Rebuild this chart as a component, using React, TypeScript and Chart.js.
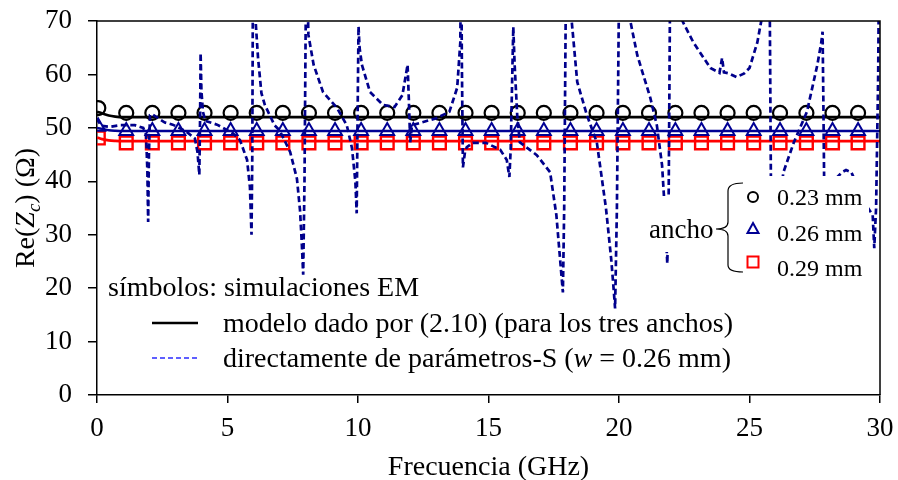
import { useEffect, useRef } from "react";
import { Chart, registerables } from "chart.js";

Chart.register(...registerables);

// Frequencies (GHz) of the EM simulation samples
const markerFreq = [
  0.05, 1.12, 2.12, 3.12, 4.12, 5.12, 6.12, 7.12, 8.12, 9.12, 10.12, 11.12, 12.12, 13.12, 14.12,
  15.12, 16.12, 17.12, 18.14, 19.14, 20.15, 21.15, 22.16, 23.16, 24.16, 25.16, 26.17, 27.18, 28.18, 29.16,
];
// Re(Zc) from EM simulations, widths 0.23 / 0.26 / 0.29 mm
const emRe023 = [
  53.7, 52.8, 52.8, 52.8, 52.8, 52.8, 52.8, 52.8, 52.8, 52.8, 52.8, 52.8, 52.8, 52.8, 52.8,
  52.8, 52.8, 52.8, 52.8, 52.8, 52.8, 52.8, 52.8, 52.8, 52.8, 52.8, 52.8, 52.8, 52.8, 52.8,
];
const emRe026 = [
  50.2, 49.4, 49.4, 49.4, 49.4, 49.4, 49.4, 49.4, 49.4, 49.4, 49.4, 49.4, 49.4, 49.4, 49.4,
  49.4, 49.4, 49.4, 49.4, 49.4, 49.4, 49.4, 49.4, 49.4, 49.4, 49.4, 49.4, 49.4, 49.4, 49.4,
];
const emRe029 = [
  48.1, 47.2, 47.2, 47.2, 47.2, 47.2, 47.2, 47.2, 47.2, 47.2, 47.2, 47.2, 47.2, 47.2, 47.2,
  47.2, 47.2, 47.2, 47.2, 47.2, 47.2, 47.2, 47.2, 47.2, 47.2, 47.2, 47.2, 47.2, 47.2, 47.2,
];

// Model (2.10) for the three widths
const modelFreq = [0, 0.2, 0.45, 0.7, 1.0, 30];
const modelRe023 = [53.0, 52.7, 52.3, 52.1, 52.0, 52.0];
const modelRe026 = [50.0, 49.8, 49.55, 49.45, 49.4, 49.4];
const modelRe029 = [48.2, 47.9, 47.65, 47.55, 47.5, 47.5];

// Extracted directly from S-parameters (w = 0.26 mm); values above 70 run off the plot
const sparFreq = [
  0.0, 0.15, 0.5, 0.9, 1.45, 1.77, 1.88, 1.93, 1.96, 1.99, 2.03, 2.1, 2.6, 2.9, 3.4, 3.75, 3.85, 3.92,
  3.95, 3.97, 4.0, 4.06, 4.15, 4.6, 5.2, 5.48, 5.75, 5.86, 5.92, 5.95, 5.98, 6.05, 6.17, 6.3, 6.43,
  6.8, 7.0, 7.4, 7.66, 7.78, 7.85, 7.9, 7.95, 8.02, 8.1, 8.3, 8.66, 9.2, 9.57, 9.77, 9.9, 9.95, 9.98,
  10.02, 10.06, 10.15, 10.46, 10.96, 11.4, 11.7, 11.9, 11.95, 12.0, 12.07, 12.5, 13.0, 13.5, 13.8,
  13.92, 13.95, 13.98, 14.02, 14.1, 14.17, 14.4, 14.9, 15.45, 15.7, 15.8, 15.85, 15.95, 16.0, 16.1,
  16.2, 16.85, 17.36, 17.6, 17.75, 17.85, 17.9, 17.98, 18.15, 18.4, 18.77, 19.15, 19.5, 19.7, 19.8,
  19.85, 19.92, 20.02, 20.35, 20.7, 21.2, 21.45, 21.65, 21.72, 21.8, 21.85, 21.9, 21.97, 22.3, 22.45,
  22.85, 23.5, 23.85, 23.95, 24.02, 24.2, 24.5, 24.8, 25.0, 25.3, 25.45, 25.6, 25.7, 25.78, 25.82,
  25.9, 26.05, 26.3, 26.7, 27.2, 27.6, 27.75, 27.8, 27.83, 27.86, 27.95, 28.1, 28.3, 28.55, 28.7,
  28.9, 29.1, 29.4, 29.72, 29.78, 29.85, 29.93, 29.97, 30.0,
];
const sparRe = [
  51.8, 50.4, 50.2, 50.5, 50.5, 50.0, 48.7, 42.0, 32.4, 45.0, 52.4, 52.6, 51.0, 50.6, 49.4, 48.0, 45.5, 41.2,
  52.0, 64.0, 57.0, 53.0, 51.3, 50.6, 49.0, 47.7, 44.0, 38.9, 30.0, 45.0, 85.0, 72.0, 63.1, 56.5, 54.3,
  50.5, 49.5, 45.5, 40.5, 34.5, 28.0, 22.5, 40.0, 85.0, 67.4, 61.8, 56.7, 53.7, 50.5, 46.2, 39.9, 34.0, 50.0,
  69.0, 65.0, 61.8, 56.7, 54.3, 53.9, 56.1, 61.8, 55.0, 47.3, 50.5, 51.1, 51.8, 53.0, 57.5,
  66.0, 85.0, 62.0, 42.6, 45.5, 46.4, 47.2, 47.2, 45.9, 44.0, 40.8, 46.0, 68.9, 62.0, 52.4,
  47.3, 44.9, 41.7, 33.7, 25.0, 19.2, 35.0, 85.0, 72.0, 58.6, 52.4, 47.3, 35.0, 25.5, 19.5,
  16.2, 35.0, 85.0, 72.0, 63.6, 55.6, 50.5, 43.0, 37.4, 30.0, 24.6, 35.0, 85.0, 72.0, 69.8,
  66.0, 61.2, 60.3, 63.1, 60.4, 60.2, 59.5, 60.2, 61.2, 66.0, 70.0, 80.0, 90.0, 70.0, 40.0,
  24.0, 33.0, 41.7, 47.3, 53.0, 61.8, 66.0, 68.0, 55.0, 40.0, 28.0, 36.0, 40.5, 41.7, 42.1,
  41.7, 39.5, 36.0, 33.7, 27.5, 35.0, 60.0, 85.0, 85.0,
];

const xTickValues = [0, 5, 10, 15, 20, 25, 30];

const SERIF = '"Liberation Serif", "Times New Roman", serif';
const NAVY = "#000094";

type Run = { t: string; size: number; italic?: boolean; dy?: number };

function runsWidth(ctx: CanvasRenderingContext2D, runs: Run[]) {
  let w = 0;
  for (const r of runs) {
    ctx.font = `${r.italic ? "italic " : ""}${r.size}px ${SERIF}`;
    w += ctx.measureText(r.t).width;
  }
  return w;
}

function drawRuns(ctx: CanvasRenderingContext2D, runs: Run[], x: number, y: number) {
  let cx = x;
  ctx.textAlign = "left";
  ctx.textBaseline = "alphabetic";
  for (const r of runs) {
    ctx.font = `${r.italic ? "italic " : ""}${r.size}px ${SERIF}`;
    ctx.fillText(r.t, cx, y + (r.dy || 0));
    cx += ctx.measureText(r.t).width;
  }
  return cx;
}

const pairs = (xs: number[], ys: number[]) => xs.map((x, i) => ({ x, y: ys[i] }));

const annotations = {
  id: "annotations",
  afterDatasetsDraw(chart: Chart) {
    const { ctx, chartArea: a } = chart;
    ctx.save();

    // closing frame (top and right)
    ctx.strokeStyle = "#000";
    ctx.lineWidth = 1.5;
    ctx.beginPath();
    ctx.moveTo(a.left, a.top);
    ctx.lineTo(a.right, a.top);
    ctx.lineTo(a.right, a.bottom);
    ctx.stroke();

    // white backing behind the width key
    ctx.fillStyle = "#fff";
    ctx.fillRect(742, 176, 127, 110);
    ctx.fillRect(640, 196, 102, 56);

    ctx.fillStyle = "#000";
    // axis titles
    const xt: Run[] = [{ t: "Frecuencia (GHz)", size: 28 }];
    drawRuns(ctx, xt, (a.left + a.right) / 2 - runsWidth(ctx, xt) / 2, 475);

    const yt: Run[] = [
      { t: "Re(", size: 28 },
      { t: "Z", size: 28, italic: true },
      { t: "c", size: 19, italic: true, dy: 6 },
      { t: ")", size: 28 },
      { t: " (Ω)", size: 28 },
    ];
    ctx.save();
    ctx.translate(34, (a.top + a.bottom) / 2);
    ctx.rotate(-Math.PI / 2);
    drawRuns(ctx, yt, -runsWidth(ctx, yt) / 2, 0);
    ctx.restore();

    // key on the left
    drawRuns(ctx, [{ t: "símbolos: simulaciones EM", size: 28 }], 108, 296);
    drawRuns(ctx, [{ t: "modelo dado por (2.10) (para los tres anchos)", size: 28 }], 223, 332);
    drawRuns(
      ctx,
      [
        { t: "directamente de parámetros-S (", size: 28 },
        { t: "w", size: 28, italic: true },
        { t: " = 0.26 mm)", size: 28 },
      ],
      223,
      367
    );
    ctx.strokeStyle = "#000";
    ctx.lineWidth = 2.5;
    ctx.beginPath();
    ctx.moveTo(152, 323);
    ctx.lineTo(198, 323);
    ctx.stroke();
    ctx.strokeStyle = "#2b2bff";
    ctx.lineWidth = 1.6;
    ctx.setLineDash([5, 3]);
    ctx.beginPath();
    ctx.moveTo(152, 358);
    ctx.lineTo(198, 358);
    ctx.stroke();
    ctx.setLineDash([]);

    // key on the right: widths
    drawRuns(ctx, [{ t: "ancho", size: 27 }], 649, 238);
    ctx.strokeStyle = "#000";
    ctx.lineWidth = 1.2;
    ctx.beginPath();
    ctx.moveTo(743, 183);
    ctx.quadraticCurveTo(728, 183, 728, 191);
    ctx.lineTo(728, 222);
    ctx.quadraticCurveTo(728, 229, 716, 229);
    ctx.quadraticCurveTo(728, 229, 728, 236);
    ctx.lineTo(728, 265);
    ctx.quadraticCurveTo(728, 272, 743, 272);
    ctx.stroke();

    ctx.lineWidth = 2;
    ctx.strokeStyle = "#000";
    ctx.beginPath();
    ctx.arc(753, 197, 5, 0, Math.PI * 2);
    ctx.stroke();
    ctx.strokeStyle = NAVY;
    ctx.beginPath();
    ctx.moveTo(753, 223);
    ctx.lineTo(758.5, 233);
    ctx.lineTo(747.5, 233);
    ctx.closePath();
    ctx.stroke();
    ctx.strokeStyle = "#ff0000";
    ctx.strokeRect(747.5, 256.5, 11, 11);

    ctx.fillStyle = "#000";
    drawRuns(ctx, [{ t: "0.23 mm", size: 24 }], 777, 205);
    drawRuns(ctx, [{ t: "0.26 mm", size: 24 }], 777, 241);
    drawRuns(ctx, [{ t: "0.29 mm", size: 24 }], 777, 276);

    ctx.restore();
  },
};

export default function App() {
  const canvasRef = useRef<HTMLCanvasElement | null>(null);

  useEffect(() => {
    document.body.style.margin = "0";
    const canvas = canvasRef.current;
    if (!canvas) return;

    const chart = new Chart(canvas, {
      type: "line",
      data: {
        datasets: [
          {
            label: "parámetros-S",
            data: pairs(sparFreq, sparRe),
            borderColor: "#00008c",
            borderWidth: 2.7,
            borderDash: [6, 3.5],
            pointRadius: 0,
            tension: 0,
            fill: false,
          },
          {
            label: "0.23 mm",
            data: pairs(markerFreq, emRe023),
            showLine: false,
            pointStyle: "circle",
            pointRadius: 7,
            pointBorderWidth: 2.2,
            borderColor: "#000",
            backgroundColor: "rgba(0,0,0,0)",
          },
          {
            label: "0.26 mm",
            data: pairs(markerFreq, emRe026),
            showLine: false,
            pointStyle: "triangle",
            pointRadius: 8,
            pointBorderWidth: 2,
            borderColor: NAVY,
            backgroundColor: "rgba(0,0,0,0)",
          },
          {
            label: "0.29 mm",
            data: pairs(markerFreq, emRe029),
            showLine: false,
            pointStyle: "rect",
            pointRadius: 9,
            pointBorderWidth: 2.4,
            borderColor: "#ff0000",
            backgroundColor: "rgba(0,0,0,0)",
          },
          {
            label: "modelo 0.23",
            data: pairs(modelFreq, modelRe023),
            borderColor: "#000",
            borderWidth: 2.6,
            pointRadius: 0,
            cubicInterpolationMode: "monotone",
          },
          {
            label: "modelo 0.26",
            data: pairs(modelFreq, modelRe026),
            borderColor: NAVY,
            borderWidth: 2.4,
            pointRadius: 0,
            cubicInterpolationMode: "monotone",
          },
          {
            label: "modelo 0.29",
            data: pairs(modelFreq, modelRe029),
            borderColor: "#ff0000",
            borderWidth: 2.8,
            pointRadius: 0,
            cubicInterpolationMode: "monotone",
          },
        ],
      },
      options: {
        responsive: false,
        animation: false,
        devicePixelRatio: 1,
        layout: { padding: { top: 21, right: 18, left: 0, bottom: 0 } },
        plugins: { legend: { display: false }, tooltip: { enabled: false } },
        scales: {
          x: {
            type: "linear",
            min: 0,
            max: 30,
            afterFit: (s: any) => {
              s.height = 85;
              s.paddingLeft = 0;
              s.paddingRight = 0;
            },
            afterBuildTicks: (s: any) => {
              s.ticks = xTickValues.map((v) => ({ value: v }));
            },
            border: { display: true, color: "#000", width: 1.5 },
            grid: { display: true, drawOnChartArea: false, drawTicks: true, tickLength: 8, color: "#000", lineWidth: 1.5 },
            ticks: { color: "#000", font: { family: SERIF, size: 27 }, padding: 10, maxRotation: 0 },
          },
          y: {
            type: "linear",
            min: 0,
            max: 70,
            afterFit: (s: any) => {
              s.width = 97;
              s.paddingTop = 0;
              s.paddingBottom = 0;
            },
            border: { display: true, color: "#000", width: 1.5 },
            grid: { display: true, drawOnChartArea: false, drawTicks: true, tickLength: 9, color: "#000", lineWidth: 1.5 },
            ticks: { stepSize: 10, color: "#000", font: { family: SERIF, size: 27 }, padding: 16 },
          },
        },
      },
      plugins: [annotations],
    } as any);

    return () => chart.destroy();
  }, []);

  return (
    <div style={{ width: 898, height: 480, background: "#fff" }}>
      <canvas ref={canvasRef} width={898} height={480} style={{ display: "block" }} />
    </div>
  );
}
